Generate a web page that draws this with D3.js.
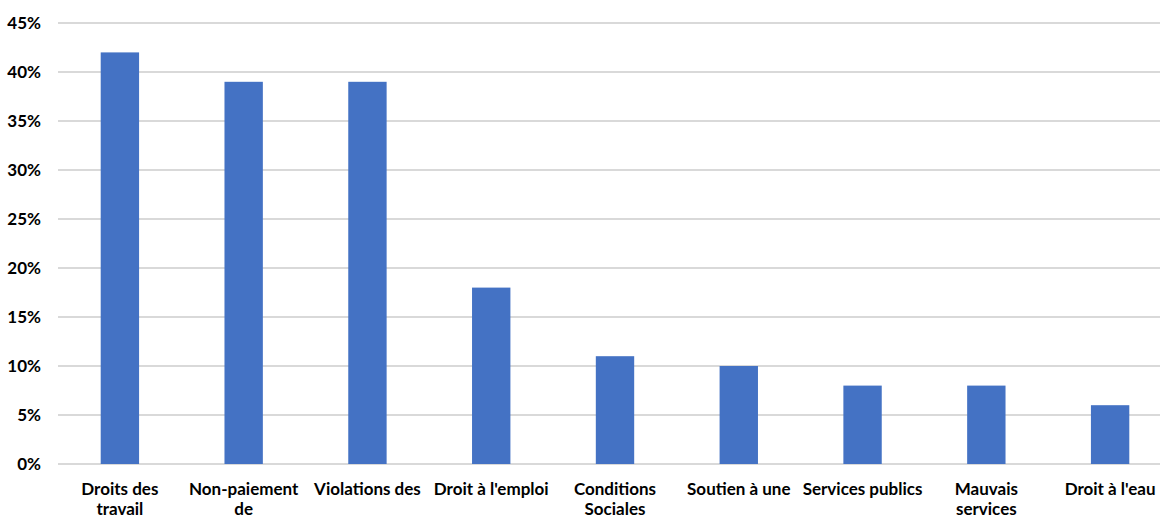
<!DOCTYPE html>
<html>
<head>
<meta charset="utf-8">
<script src="https://cdn.jsdelivr.net/npm/d3@7"></script>
<style>
  html, body { margin: 0; padding: 0; background: #fff; }
  svg { display: block; }
  text { font-family: Lato, "Noto Sans", sans-serif; font-weight: bold; fill: #000; }
</style>
</head>
<body>
<svg id="chart" width="1160" height="519"></svg>
<script>
// Category labels, split into the lines shown under each bar
const categories = [
  ["Droits des", "travail"],
  ["Non-paiement", "de"],
  ["Violations des"],
  ["Droit à l'emploi"],
  ["Conditions", "Sociales"],
  ["Soutien à une"],
  ["Services publics"],
  ["Mauvais", "services"],
  ["Droit à l'eau"]
];
// Share of respondents per category (%)
const values = [42, 39, 39, 18, 11, 10, 8, 8, 6];
// Y-axis ticks (%)
const yTicks = [0, 5, 10, 15, 20, 25, 30, 35, 40, 45];

const svg = d3.select("#chart");
const plotLeft = 58, plotRight = 1172, plotTop = 23, plotBottom = 464;

const ids = categories.map((c, i) => i);
const x = d3.scaleBand().domain(ids).range([plotLeft, plotRight]).paddingInner(0.69).paddingOuter(0.345);
const y = d3.scaleLinear().domain([0, 45]).range([plotBottom, plotTop]);

// Horizontal gridlines
svg.append("g").selectAll("line").data(yTicks).join("line")
  .attr("x1", plotLeft).attr("x2", 1160)
  .attr("y1", d => y(d)).attr("y2", d => y(d))
  .attr("stroke", "#d9d9d9").attr("stroke-width", 2);

// Y tick labels
svg.append("g").selectAll("text").data(yTicks).join("text")
  .attr("x", 41).attr("y", d => y(d))
  .attr("dy", "0.35em")
  .attr("text-anchor", "end")
  .style("font-size", "17px")
  .text(d => d + "%");

// Bars
svg.append("g").selectAll("rect").data(values).join("rect")
  .attr("x", (d, i) => x(i))
  .attr("width", x.bandwidth())
  .attr("y", d => y(d))
  .attr("height", d => y(0) - y(d))
  .attr("fill", "#4472c4");

// Category labels
const lab = svg.append("g").selectAll("text").data(categories).join("text")
  .attr("x", (d, i) => x(i) + x.bandwidth() / 2)
  .attr("y", 495)
  .attr("text-anchor", "middle")
  .style("font-size", "17px");
lab.selectAll("tspan").data(d => d).join("tspan")
  .attr("x", function () { return d3.select(this.parentNode).attr("x"); })
  .attr("dy", (d, j) => j === 0 ? 0 : 20)
  .text(d => d);
</script>
</body>
</html>
